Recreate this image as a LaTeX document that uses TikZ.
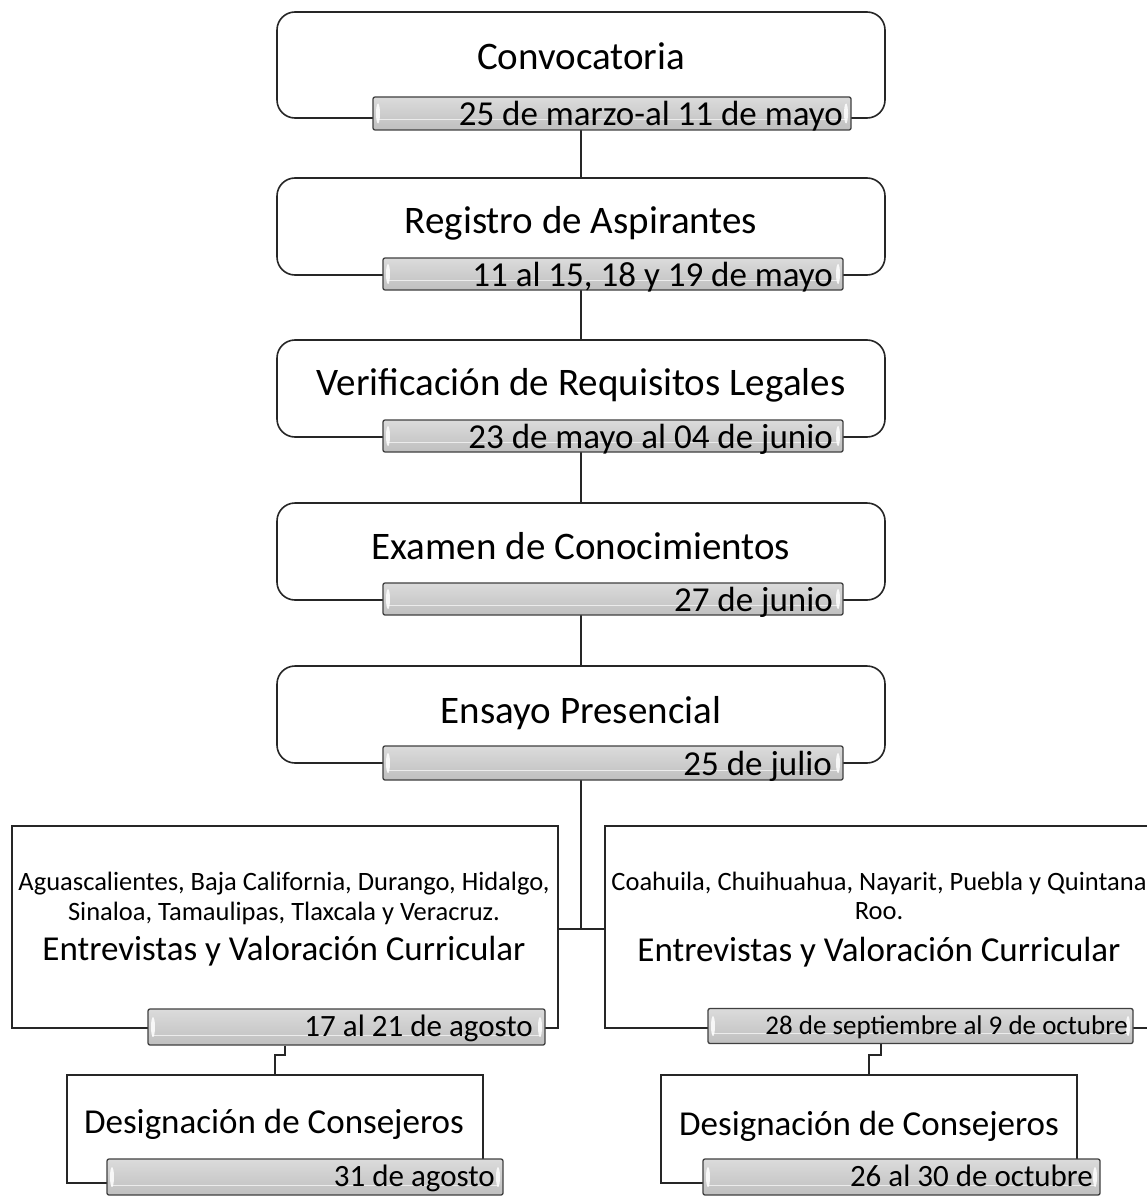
\documentclass[tikz,border=0pt]{standalone}
\usepackage{fontspec}
\setmainfont{Carlito}
\begin{document}
\begin{tikzpicture}[x=1pt,y=-1pt,
  mainbox/.style={draw=black!85, line width=1.6pt, rounded corners=18pt, fill=white, inner sep=0pt},
  sqbox/.style={draw=black!85, line width=1.6pt, fill=white, inner sep=0pt},
  datebar/.style={draw=black!75, line width=1.3pt, rounded corners=2pt, top color=gray!28, bottom color=gray!50, inner sep=0pt,
    path picture={
      \draw[gray!15, line width=1pt] ([xshift=4pt,yshift=10pt]path picture bounding box.south west) -- ([xshift=-4pt,yshift=10pt]path picture bounding box.south east);
      \fill[white, opacity=0.85] ([xshift=5pt]path picture bounding box.west) ellipse [x radius=2pt, y radius=10pt];
      \fill[white, opacity=0.85] ([xshift=-5pt]path picture bounding box.east) ellipse [x radius=2pt, y radius=10pt];
    }},
  ttl/.style={font=\fontsize{39}{44}\selectfont, inner sep=0pt, anchor=base},
  dte/.style={font=\fontsize{35}{40}\selectfont, inner sep=0pt, anchor=base east},
  dtelow/.style={font=\fontsize{31}{35}\selectfont, inner sep=0pt, anchor=base east},
  dtesm/.style={font=\fontsize{27}{30}\selectfont, inner sep=0pt, anchor=base east},
  mid/.style={font=\fontsize{35}{40}\selectfont, inner sep=0pt, anchor=base},
  small/.style={font=\fontsize{26.5}{30}\selectfont, inner sep=0pt, anchor=base},
  conn/.style={draw=black!85, line width=2.2pt}
]
\useasboundingbox (0,0) rectangle (1146,1196);

% main boxes
\node[mainbox, minimum width=608pt, minimum height=106pt] (b1) at (581,65) {};
\node[mainbox, minimum width=608pt, minimum height=97pt] (b2) at (581,226.5) {};
\node[mainbox, minimum width=608pt, minimum height=97pt] (b3) at (581,388.5) {};
\node[mainbox, minimum width=608pt, minimum height=97pt] (b4) at (581,551.5) {};
\node[mainbox, minimum width=608pt, minimum height=97pt] (b5) at (581,714.5) {};

% connectors (drawn before bars)
\draw[conn] (b1.south |- 0,130) -- (b2.north);
\draw[conn] (b2.south |- 0,290) -- (b3.north);
\draw[conn] (b3.south |- 0,452) -- (b4.north);
\draw[conn] (b4.south |- 0,615) -- (b5.north);

% lower boxes
\node[sqbox, minimum width=546pt, minimum height=202pt] (L) at (285,927) {};
\node[sqbox, minimum width=548pt, minimum height=202pt] (R) at (879,927) {};
\coordinate (j) at (581,929);
\draw[conn] (b5.south |- 0,778) -- (j);
\draw[conn] (L.east |- j) -- (R.west |- j);

\node[sqbox, minimum width=416pt, minimum height=108pt] (D1) at (275,1129) {};
\node[sqbox, minimum width=416pt, minimum height=108pt] (D2) at (869,1129) {};

% date bars
\node[datebar, minimum width=478pt, minimum height=33pt] (bar1) at (612,113.5) {};
\node[datebar, minimum width=460pt, minimum height=32pt] (bar2) at (613,274) {};
\node[datebar, minimum width=460pt, minimum height=32pt] (bar3) at (613,436) {};
\node[datebar, minimum width=460pt, minimum height=32pt] (bar4) at (613,599) {};
\node[datebar, minimum width=460pt, minimum height=34pt] (bar5) at (613,763) {};
\node[datebar, minimum width=397pt, minimum height=36pt] (barL) at (346.5,1027) {};
\node[datebar, minimum width=425pt, minimum height=35pt] (barR) at (920.5,1026) {};
\node[datebar, minimum width=396pt, minimum height=36pt] (barD1) at (305,1177) {};
\node[datebar, minimum width=397pt, minimum height=36pt] (barD2) at (901.5,1177) {};

% jog connectors
\coordinate (jl) at (285,1055);
\coordinate (jr) at (881,1055);
\draw[conn] (jl |- barL.south) -- (jl) -| (D1.north);
\draw[conn] (jr |- barR.south) -- (jr) -| (D2.north);

% titles
\node[ttl] (t1) at (581,70) {Convocatoria};
\node[ttl] (t2) at (581,233) {Registro de Aspirantes};
\node[ttl] (t3) at (581,395) {Verificación de Requisitos Legales};
\node[ttl] (t4) at (581,559) {Examen de Conocimientos};
\node[ttl] (t5) at (581,723) {Ensayo Presencial};

% dates
\node[dte] (d1) at (843,126) {25 de marzo-al 11 de mayo};
\node[dte] (d2) at (833,286) {11 al 15, 18 y 19 de mayo};
\node[dte] (d3) at (833,448) {23 de mayo al 04 de junio};
\node[dte] (d4) at (833,611) {27 de junio};
\node[dte] (d5) at (832,775) {25 de julio};
\node[dtelow] (dL) at (533,1036) {17 al 21 de agosto};
\node[dtesm] (dR) at (1128,1034) {28 de septiembre al 9 de octubre};
\node[dtelow] (dD1) at (495,1186) {31 de agosto};
\node[dtelow] (dD2) at (1093,1186) {26 al 30 de octubre};

% lower box texts
\node[small] (sl1) at (284,890) {Aguascalientes, Baja California, Durango, Hidalgo,};
\node[small] (sl2) at (284,920) {Sinaloa, Tamaulipas, Tlaxcala y Veracruz.};
\node[mid] (ml) at (284,960) {Entrevistas y Valoración Curricular};
\node[small] (sr1) at (879,890) {Coahuila, Chuihuahua, Nayarit, Puebla y Quintana};
\node[small] (sr2) at (879,919) {Roo.};
\node[mid] (mr) at (879,961) {Entrevistas y Valoración Curricular};
\node[mid] (tD1) at (274,1133) {Designación de Consejeros};
\node[mid] (tD2) at (869,1135) {Designación de Consejeros};
\end{tikzpicture}
\end{document}
